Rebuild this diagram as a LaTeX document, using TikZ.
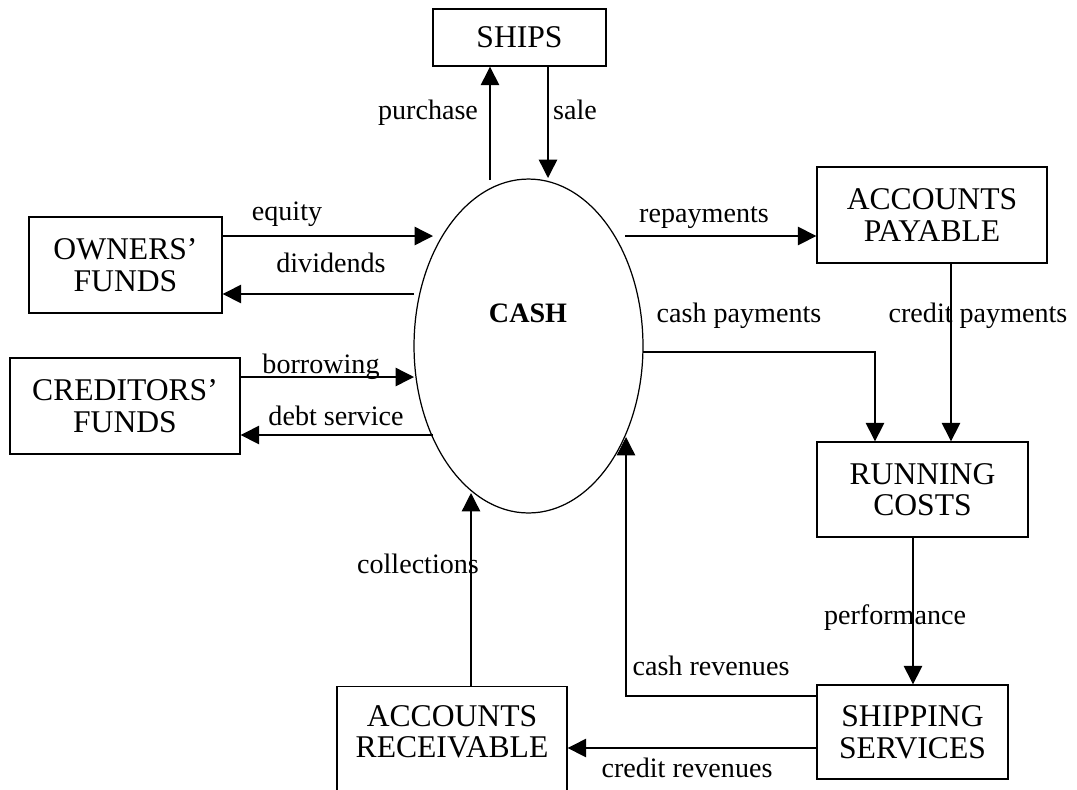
\documentclass[tikz,border=0pt]{standalone}
\usepackage{fontspec}
\setmainfont{Liberation Serif}
\usetikzlibrary{arrows.meta,shapes.geometric}
\tikzset{
  box/.style={draw,line width=0.8pt,align=center,inner sep=0pt,
    font=\fontsize{18}{18}\selectfont},
  flow/.style={-{Triangle[length=10.5pt,width=10.5pt]},line width=0.8pt},
  lbl/.style={anchor=base,inner sep=0pt,font=\fontsize{16}{18}\selectfont}
}
\begin{document}
\begin{tikzpicture}[x=0.02cm,y=-0.02cm]
        \useasboundingbox (0,0) rectangle (1077,789);
        \clip (0,0) rectangle (1077,789);
        % stores
        \node[box,minimum width=3.46cm,minimum height=1.14cm] (ships) at (519.5,37.5) {SHIPS};
        \node[box,minimum width=3.86cm,minimum height=1.92cm] (owners) at (125.5,265) {OWNERS'\\FUNDS};
        \node[box,minimum width=4.6cm,minimum height=1.92cm] (creditors) at (125,406) {CREDITORS'\\FUNDS};
        \node[box,minimum width=4.6cm,minimum height=1.92cm] (payable) at (932,215) {ACCOUNTS\\PAYABLE};
        \node[box,minimum width=4.22cm,minimum height=1.9cm] (running) at (922.5,489.5) {RUNNING\\COSTS};
        \node[box,minimum width=3.82cm,minimum height=1.88cm] (shipping) at (912.5,732) {SHIPPING\\SERVICES};
        \node[box,minimum width=4.6cm,anchor=north,inner ysep=10.5pt,text depth=60pt] (receivable) at (452,686) {ACCOUNTS\\RECEIVABLE};
        \node[draw,ellipse,line width=0.7pt,inner sep=0pt,minimum width=4.58cm,minimum height=6.68cm] (cash) at (528.5,346) {};
        \node[lbl,font=\fontsize{16}{18}\selectfont\bfseries] (cashtxt) at (528,322) {CASH};
        % ends on the cash ellipse
        \coordinate (pu) at (490,180);
        \coordinate (sa) at (548,178);
        \coordinate (eq) at (433,236);
        \coordinate (dv) at (414,294);
        \coordinate (bo) at (414,377);
        \coordinate (ds) at (433,435);
        \coordinate (rp) at (625,236);
        \coordinate (cp) at (643,352);
        \coordinate (cl) at (471,493);
        \coordinate (cr) at (626,437);
        % flows
        \draw[flow] (pu) -- (ships.south -| pu);
        \draw[flow] (ships.south -| sa) -- (sa);
        \draw[flow] (owners.east |- eq) -- (eq);
        \draw[flow] (dv) -- (owners.east |- dv);
        \draw[flow] (creditors.east |- bo) -- (bo);
        \draw[flow] (ds) -- (creditors.east |- ds);
        \draw[flow] (rp) -- (payable.west |- rp);
        \draw[flow] (cp) -| (running.north -| 875,0);
        \draw[flow] (payable.south -| 951,0) -- (running.north -| 951,0);
        \draw[flow] (running.south -| 913,0) -- (shipping.north -| 913,0);
        \draw[flow] (shipping.west |- 0,696) -| (cr);
        \draw[flow] (shipping.west |- 0,748) -- (receivable.east |- 0,748);
        \draw[flow] (receivable.north -| cl) -- (cl);
        % labels
        \node[lbl] (lpu) at (428,119) {purchase};
        \node[lbl] (lsa) at (575,119) {sale};
        \node[lbl] (leq) at (287,220) {equity};
        \node[lbl] (ldv) at (331,272) {dividends};
        \node[lbl] (lbo) at (321,373) {borrowing};
        \node[lbl] (lds) at (336,425) {debt service};
        \node[lbl] (lrp) at (704,222) {repayments};
        \node[lbl] (lcp) at (739,322) {cash payments};
        \node[lbl] (lcd) at (978,322) {credit payments};
        \node[lbl] (lcl) at (418,573) {collections};
        \node[lbl] (lpf) at (895,624) {performance};
        \node[lbl] (lcr) at (711,675) {cash revenues};
        \node[lbl] (lcv) at (687,777) {credit revenues};
\end{tikzpicture}
\end{document}
